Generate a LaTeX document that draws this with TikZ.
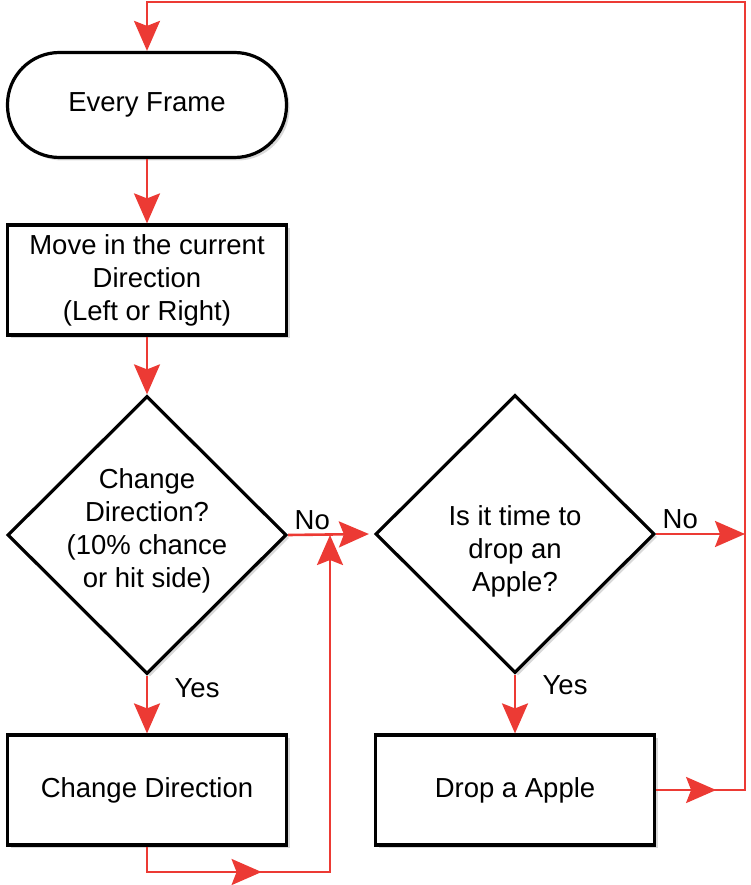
\documentclass[tikz,border=0pt]{standalone}
\usepackage{fontspec}
\setmainfont{Liberation Sans}
\usetikzlibrary{arrows.meta,positioning,shapes.geometric,shadows,decorations.markings}
\definecolor{flowred}{RGB}{236,58,52}

\begin{document}
\begin{tikzpicture}[x=1pt, y=-1pt,
  font=\fontsize{27.5}{33}\selectfont,
  chart/.style={draw, line width=3.2pt, fill=white,
    drop shadow={opacity=0.3, shadow xshift=3pt, shadow yshift=-3pt}},
  box/.style={chart, rectangle, minimum width=279pt, minimum height=110pt, align=center},
  terminal/.style={box, rounded corners=52pt, minimum height=105pt},
  decision/.style={chart, diamond, aspect=1, inner sep=0pt,
    minimum width=279pt, minimum height=278pt},
  flow/.style={draw=flowred, line width=2.6pt, -{Stealth[length=30pt, width=26pt, inset=5pt]}},
  midarrow/.style={postaction={decorate}, decoration={markings,
    mark=at position #1 with {\arrow[flowred]{Stealth[length=30pt, width=26pt, inset=5pt]}}}}]
  \useasboundingbox (0,0) rectangle (750,885);

  % Left column
  \node[terminal] (frame) at (147,105) {Every Frame};
  \node[box] (move) at (147,280) {Move in the current\\Direction\\(Left or Right)};
  \node[decision, label={[align=center, yshift=4pt]center:Change\\Direction?\\(10\% chance\\or hit side)}] (change) at (147,535) {};
  \node[box] (turn) at (147,790) {Change Direction};

  % Right column
  \node[decision, label={[align=center, yshift=-17pt]center:Is it time to\\drop an\\Apple?}] (apple) at (515,534) {};
  \node[box] (drop) at (515,790) {Drop a Apple};

  \coordinate (topR) at (745,2);
  \coordinate (loopR) at (330,872);
  \coordinate (join) at (330,535);

  % Connectors
  \draw[flow] (frame) -- (move);
  \draw[flow] (move) -- (change);
  \draw[flow] (change.east) node[above right=1pt and 2pt]{No} -- ([xshift=-5pt]apple.west);
  \draw[flow] (change.south) node[below right=-2pt and 23pt]{Yes} -- (turn.north);
  \draw[flow, midarrow=140pt] (turn.south) |- (loopR) -- (join);
  \draw[flow] (apple.east) node[above right=1pt and 2pt]{No} -- (apple.east -| topR);
  \draw[flow] (apple.south) node[below right=-4pt and 23pt]{Yes} -- (drop.north);
  \draw[flow, midarrow=60pt] (drop.east) -| (topR) -| (frame.north);
\end{tikzpicture}
\end{document}
